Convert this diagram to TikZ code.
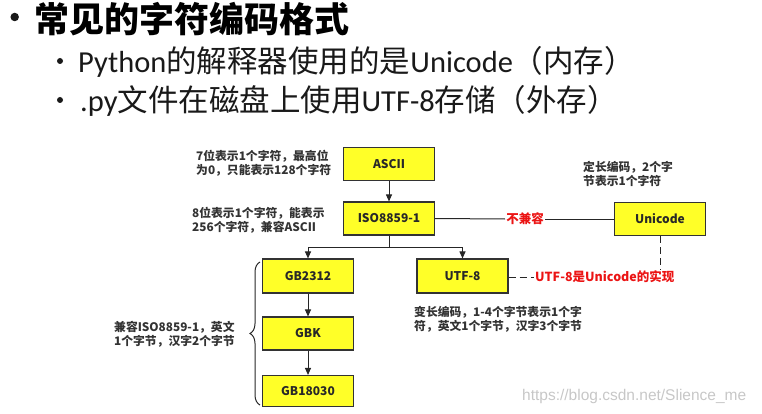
\documentclass[tikz,border=0pt]{standalone}
\usepackage{fontspec}
\setmainfont{Noto Sans CJK SC}
\newfontfamily\wmfont{Liberation Sans}
\newfontfamily\latf{Carlito}
\usetikzlibrary{arrows.meta,decorations.pathreplacing}
\definecolor{boxyellow}{RGB}{255,255,40}
\definecolor{txtgray}{RGB}{40,40,40}
\definecolor{redlbl}{RGB}{235,20,20}
\tikzset{
  encbox/.style={draw=black!80, fill=boxyellow, line width=1.1pt, minimum width=91pt, minimum height=33pt, inner sep=0pt, font=\fontsize{12}{14}\selectfont\bfseries, text=txtgray},
  note/.style={anchor=west, align=left, inner sep=0pt, font=\fontsize{11.8}{14}\selectfont\bfseries, text=black!80},
  conn/.style={line width=1pt, draw=black!85},
  arr/.style={conn, -{Triangle[length=7pt,width=6pt]}},
  redlab/.style={inner sep=1pt, text=redlbl, font=\fontsize{12.5}{14}\selectfont\bfseries},
  bullet/.style={circle, fill=black!90, inner sep=0pt},
  subline/.style={anchor=base west, inner sep=0pt, text=black!90, font=\fontsize{30.5}{32}\selectfont},
}
\newcommand{\lt}[1]{{\latf\fontsize{30.5}{32}\selectfont #1}}
\begin{document}
\begin{tikzpicture}[x=1pt,y=-1pt]
\useasboundingbox (0,0) rectangle (762,414);
% header
\node[bullet, minimum size=8.5pt] (b1) at (14.7,17) {};
\node[anchor=base west, inner sep=0pt, font=\fontsize{35}{38}\selectfont\bfseries] (h1) at (34,32.3) {常见的字符编码格式};
\node[bullet, minimum size=6pt] (b2) at (60,61) {};
\node[subline] (h2) at (78,73) {\lt{Python}的解释器使用的是\lt{Unicode}（内存）};
\node[bullet, minimum size=6pt] (b3) at (60,100) {};
\node[subline] (h3) at (80,111.5) {\lt{.py}文件在磁盘上使用\lt{UTF-8}存储（外存）};

% boxes
\node[encbox] (ascii) at (389,164) {ASCII};
\node[encbox] (iso) at (389,218.5) {ISO8859-1};
\node[encbox] (uni) at (660,219) {Unicode};
\node[encbox, minimum height=34pt] (gb2312) at (308,276) {GB2312};
\node[encbox] (gbk) at (308,333.5) {GBK};
\node[encbox, minimum height=31pt] (gb18030) at (308,391) {GB18030};
\node[encbox, minimum height=34pt] (utf) at (462.5,276) {UTF-8};

% connectors
\coordinate (br) at (389,247);
\draw[arr] (ascii) -- (iso);
\draw[conn] (iso.south) -- (br);
\draw[conn] (br -| gb2312) -- (br -| utf);
\draw[arr] (br -| gb2312) -- (gb2312.north);
\draw[arr] (br -| utf) -- (utf.north);
\draw[arr] (gb2312) -- (gbk);
\draw[arr] (gbk) -- (gb18030);

\node[redlab] (incompat) at (525,219) {不兼容};
\draw[conn] (iso.east) -- (incompat.west);
\draw[conn] (incompat.east) -- (uni.west);

\node[redlab, anchor=west] (impl) at (534,277) {UTF-8是Unicode的实现};
\draw[conn, dashed, dash pattern=on 7pt off 4pt] (utf.east |- impl.west) -- (impl.west);
\draw[conn, dashed, dash pattern=on 7pt off 4pt] (uni.south) -- (uni.south |- impl.north);

% brace
\coordinate (bb) at (260,405);
\coordinate (bt) at (260,262);
\draw[conn, decorate, decoration={brace, amplitude=10pt}] (bb) -- (bt);

% notes
\node[note] (n1) at (196,163.5) {7位表示1个字符，最高位\\为0，只能表示128个字符};
\node[note] (n2) at (192,220) {8位表示1个字符，能表示\\256个字符，兼容ASCII};
\node[note] (n3) at (583,173.5) {定长编码，2个字\\节表示1个字符};
\node[note] (n4) at (114,334) {兼容ISO8859-1，英文\\1个字节，汉字2个字节};
\node[note] (n5) at (414,319) {变长编码，1-4个字节表示1个字\\符，英文1个字节，汉字3个字节};

% watermark
\node[anchor=west, inner sep=0pt, text=black!22, font=\wmfont\fontsize{15.5}{17}\selectfont] (wm) at (522,396) {https://blog.csdn.net/Slience\_me};
\end{tikzpicture}
\end{document}
